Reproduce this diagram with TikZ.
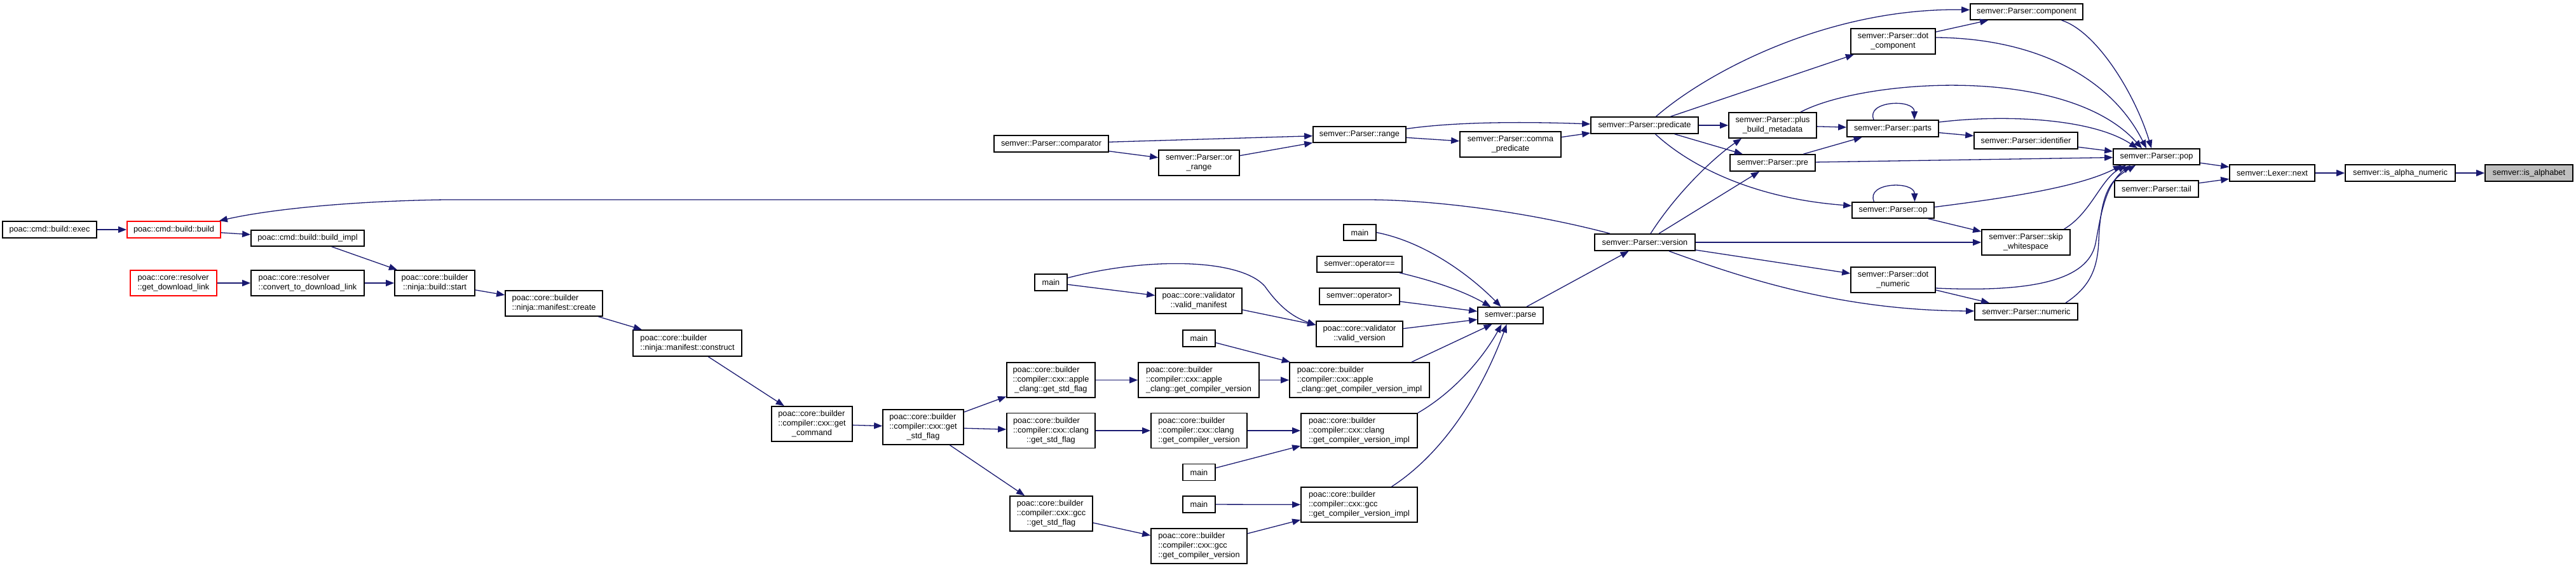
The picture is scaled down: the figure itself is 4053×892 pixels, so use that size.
\documentclass[tikz,border=0pt]{standalone}
\usepackage{fontspec}
\setmainfont{Liberation Sans}
\usetikzlibrary{arrows.meta}
\newcommand\TL[2]{\begin{tabular}{@{}l@{}}#1\\\multicolumn{1}{@{}c@{}}{#2}\end{tabular}}
\definecolor{edgec}{HTML}{191970}
\definecolor{focusc}{HTML}{BFBFBF}
\begin{document}
\begin{tikzpicture}[x=1pt,y=-1pt,
  bx/.style={draw=black,line width=1.7pt,rectangle,inner sep=0pt,fill=white,
    font=\fontsize{12.75}{15}\selectfont,align=center},
  redbx/.style={bx,draw=red},
  focus/.style={bx,fill=focusc},
  ed/.style={draw=edgec,line width=1.3pt,-{Triangle[length=13pt,width=10pt]}},
]
\useasboundingbox (0,0) rectangle (4053,892);
% ---------- left part ----------
\node[bx,minimum width=148pt,minimum height=26pt] (exec) at (78,361) {poac::cmd::build::exec};
\node[redbx,minimum width=147pt,minimum height=26pt] (build) at (273.5,361) {poac::cmd::build::build};
\node[bx,minimum width=178pt,minimum height=25pt] (bimpl) at (484,374.5) {poac::cmd::build::build\_impl};
\node[redbx,minimum width=136pt,minimum height=40pt] (gdl) at (273,445) {\TL{poac::core::resolver}{::get\_download\_link}};
\node[bx,minimum width=178pt,minimum height=40pt] (conv) at (484,445) {\TL{poac::core::resolver}{::convert\_to\_download\_link}};
\node[bx,minimum width=126pt,minimum height=40pt] (start) at (684,445) {\TL{poac::core::builder}{::ninja::build::start}};
\node[bx,minimum width=153pt,minimum height=40pt] (create) at (871.5,477) {\TL{poac::core::builder}{::ninja::manifest::create}};
\node[bx,minimum width=171pt,minimum height=41pt] (constr) at (1081.5,539.5) {\TL{poac::core::builder}{::ninja::manifest::construct}};
\node[bx,minimum width=127pt,minimum height=55pt] (getcmd) at (1277.5,666.5) {\TL{poac::core::builder\\::compiler::cxx::get}{\_command}};
\node[bx,minimum width=127pt,minimum height=55pt] (stdflag) at (1452.5,671.5) {\TL{poac::core::builder\\::compiler::cxx::get}{\_std\_flag}};
\node[bx,minimum width=139pt,minimum height=55pt] (applesf) at (1653.5,597.5) {\TL{poac::core::builder\\::compiler::cxx::apple}{\_clang::get\_std\_flag}};
\node[bx,minimum width=139pt,minimum height=55pt] (clangsf) at (1653.5,677) {\TL{poac::core::builder\\::compiler::cxx::clang}{::get\_std\_flag}};
\node[bx,minimum width=130pt,minimum height=55pt] (gccsf) at (1654,807.5) {\TL{poac::core::builder\\::compiler::cxx::gcc}{::get\_std\_flag}};
\node[bx,minimum width=190pt,minimum height=55pt] (applegcv) at (1886,597.5) {\TL{poac::core::builder\\::compiler::cxx::apple}{\_clang::get\_compiler\_version}};
\node[bx,minimum width=151pt,minimum height=55pt] (clanggcv) at (1886.5,677) {\TL{poac::core::builder\\::compiler::cxx::clang}{::get\_compiler\_version}};
\node[bx,minimum width=151pt,minimum height=55pt] (gccgcv) at (1886.5,858.5) {\TL{poac::core::builder\\::compiler::cxx::gcc}{::get\_compiler\_version}};
\node[bx,minimum width=51pt,minimum height=26pt] (mainA) at (1653.5,444) {main};
\node[bx,minimum width=136pt,minimum height=40pt] (vman) at (1886,473) {\TL{poac::core::validator}{::valid\_manifest}};
\node[bx,minimum width=51pt,minimum height=26pt] (mainB) at (1886.5,532) {main};
\node[bx,minimum width=51pt,minimum height=26pt] (mainC) at (1886.5,742.5) {main};
\node[bx,minimum width=51pt,minimum height=26pt] (mainD) at (1886.5,793) {main};
\node[bx,minimum width=51pt,minimum height=25pt] (mainT) at (2139.5,365.5) {main};
\node[bx,minimum width=134pt,minimum height=25pt] (opeq) at (2139,415.5) {semver::operator==};
\node[bx,minimum width=126pt,minimum height=26pt] (opgt) at (2139,466) {semver::operator>};
\node[bx,minimum width=136pt,minimum height=40pt] (vver) at (2139,525) {\TL{poac::core::validator}{::valid\_version}};
\node[bx,minimum width=220pt,minimum height=55pt] (appleimpl) at (2139,597.5) {\TL{poac::core::builder\\::compiler::cxx::apple}{\_clang::get\_compiler\_version\_impl}};
\node[bx,minimum width=183pt,minimum height=54pt] (clangimpl) at (2138.5,677) {\TL{poac::core::builder\\::compiler::cxx::clang}{::get\_compiler\_version\_impl}};
\node[bx,minimum width=183pt,minimum height=55pt] (gccimpl) at (2138.5,793.5) {\TL{poac::core::builder\\::compiler::cxx::gcc}{::get\_compiler\_version\_impl}};
\node[bx,minimum width=103pt,minimum height=26pt] (parse) at (2376.5,496) {semver::parse};
% ---------- semver part ----------
\node[bx,minimum width=180pt,minimum height=26pt] (comp) at (1654,226) {semver::Parser::comparator};
\node[bx,minimum width=127pt,minimum height=40pt] (orr) at (1886.5,256) {\TL{semver::Parser::or}{\_range}};
\node[bx,minimum width=146pt,minimum height=25pt] (range) at (2139,211.5) {semver::Parser::range};
\node[bx,minimum width=159pt,minimum height=40pt] (comma) at (2376.5,227) {\TL{semver::Parser::comma}{\_predicate}};
\node[bx,minimum width=169pt,minimum height=26pt] (pred) at (2587.5,197) {semver::Parser::predicate};
\node[bx,minimum width=158pt,minimum height=26pt] (ver) at (2588,381) {semver::Parser::version};
\node[bx,minimum width=138pt,minimum height=40pt] (plus) at (2789,197) {\TL{semver::Parser::plus}{\_build\_metadata}};
\node[bx,minimum width=134pt,minimum height=26pt] (pre) at (2789,256) {semver::Parser::pre};
\node[bx,minimum width=133pt,minimum height=40pt] (dotc) at (2978.5,65) {\TL{semver::Parser::dot}{\_component}};
\node[bx,minimum width=144pt,minimum height=26pt] (parts) at (2978,202) {semver::Parser::parts};
\node[bx,minimum width=129pt,minimum height=25pt] (op) at (2978.5,330.5) {semver::Parser::op};
\node[bx,minimum width=133pt,minimum height=40pt] (dotn) at (2978.5,440) {\TL{semver::Parser::dot}{\_numeric}};
\node[bx,minimum width=177pt,minimum height=25pt] (cmpn) at (3188.5,18.5) {semver::Parser::component};
\node[bx,minimum width=163pt,minimum height=26pt] (ident) at (3187.5,221) {semver::Parser::identifier};
\node[bx,minimum width=139pt,minimum height=40pt] (skip) at (3187.5,381) {\TL{semver::Parser::skip}{\_whitespace}};
\node[bx,minimum width=162pt,minimum height=26pt] (num) at (3188,490) {semver::Parser::numeric};
\node[bx,minimum width=136pt,minimum height=25pt] (pop) at (3393,246.5) {semver::Parser::pop};
\node[bx,minimum width=132pt,minimum height=26pt] (tail) at (3393,297) {semver::Parser::tail};
\node[bx,minimum width=134pt,minimum height=26pt] (next) at (3575,272) {semver::Lexer::next};
\node[bx,minimum width=173pt,minimum height=26pt] (alnum) at (3776.5,272) {semver::is\_alpha\_numeric};
\node[focus,minimum width=138pt,minimum height=26pt] (alpha) at (3979,272) {semver::is\_alphabet};
% ---------- edges: left ----------
\draw[ed] (exec) -- (build);
\draw[ed] (build) -- (bimpl);
\draw[ed] (bimpl) -- (start);
\draw[ed] (gdl) -- (conv);
\draw[ed] (conv) -- (start);
\draw[ed] (start) -- (create);
\draw[ed] (create) -- (constr);
\draw[ed] (constr) -- (getcmd);
\draw[ed] (getcmd) -- (stdflag);
\draw[ed] (stdflag) -- (applesf);
\draw[ed] (stdflag) -- (clangsf);
\draw[ed] (stdflag) -- (gccsf);
\draw[ed] (applesf) -- (applegcv);
\draw[ed] (clangsf) -- (clanggcv);
\draw[ed] (gccsf) -- (gccgcv);
\draw[ed] (applegcv) -- (appleimpl);
\draw[ed] (clanggcv) -- (clangimpl);
\draw[ed] (gccgcv) -- (gccimpl);
\draw[ed] (mainB) -- (appleimpl);
\draw[ed] (mainC) -- (clangimpl);
\draw[ed] (mainD) -- (gccimpl);
\draw[ed] (mainA) -- (vman);
\draw[ed] (mainA.15) .. controls (1800,405) and (1950,405) .. (1990,450) .. controls (2010,478) and (2030,497) .. ([yshift=14pt]vver.west);
\draw[ed] (vman) -- (vver);
\draw[ed] (mainT.east) .. controls (2240,380) and (2310,430) .. ([xshift=-15pt]parse.north);
\draw[ed] ([xshift=-5pt]opeq.south east) .. controls (2270,445) and (2310,462) .. ([xshift=-31pt]parse.north);
\draw[ed] (opgt) -- (parse);
\draw[ed] (vver) -- (parse);
\draw[ed] ([xshift=82pt]appleimpl.north) -- ([xshift=-29pt]parse.south);
\draw[ed] (clangimpl.north east) .. controls (2290,615) and (2335,560) .. ([xshift=-14pt]parse.south);
\draw[ed] ([xshift=51pt]gccimpl.north) .. controls (2290,700) and (2345,580) .. ([xshift=-6pt]parse.south);
\draw[ed] (parse) -- (ver);
\draw[ed] ([xshift=-55pt]ver.north) .. controls (2400,332) and (2250,314) .. (2150,314) -- (700,314) .. controls (560,316) and (430,328) .. ([xshift=-3pt]build.north east);
% ---------- edges: semver ----------
\draw[ed] ([yshift=9pt]range.east) .. controls (2300,190) and (2420,192) .. ([yshift=2pt]pred.west);
\draw[ed] (range) -- (comma);
\draw[ed] (comma) -- (pred);
\draw[ed] (comp) -- (range);
\draw[ed] (comp) -- (orr);
\draw[ed] (orr) -- (range);
\draw[ed] (pred) -- (plus);
\draw[ed] (pred) -- (pre);
\draw[ed] (pred) -- (dotc);
\draw[ed] ([xshift=18pt]pred.north) .. controls (2690,110) and (2880,12) .. ([yshift=3pt]cmpn.west);
\draw[ed] ([xshift=17pt]pred.south) .. controls (2660,262) and (2760,312) .. ([yshift=7pt]op.west);
\draw[ed] (plus) -- (parts);
\draw[ed] ([xshift=44pt]plus.north) .. controls (2930,125) and (3250,100) .. ([xshift=-23pt]pop.north);
\draw[ed] (pre) -- (parts);
\draw[ed] (pre) -- (pop);
\draw[ed] ([xshift=-30pt]parts.north) .. controls (2935,158) and (3012,155) .. ([xshift=34pt]parts.north);
\draw[ed] (parts) -- (ident);
\draw[ed] ([yshift=10pt]parts.east) .. controls (3150,180) and (3290,185) .. ([xshift=-30pt]pop.north);
\draw[ed] (ident) -- (pop);
\draw[ed] (dotc) -- (cmpn);
\draw[ed] ([yshift=6pt]dotc.east) .. controls (3200,60) and (3320,120) .. ([xshift=-16pt]pop.north);
\draw[ed] ([xshift=55pt]cmpn.south) .. controls (3300,50) and (3360,150) .. ([xshift=-8pt]pop.north);
\draw[ed] ([xshift=22pt]ver.north) -- ([xshift=-21pt]pre.south);
\draw[ed] ([xshift=9pt]ver.north) .. controls (2640,300) and (2700,245) .. ([xshift=-49pt]plus.south);
\draw[ed] (ver) -- (skip);
\draw[ed] (ver) -- (dotn);
\draw[ed] ([xshift=38pt]ver.south) .. controls (2750,440) and (2900,488) .. ([yshift=1pt]num.west);
\draw[ed] ([xshift=-30pt]op.north) .. controls (2935,286) and (3012,284) .. ([xshift=34pt]op.north);
\draw[ed] (op) -- (skip);
\draw[ed] ([yshift=5pt]op.east) .. controls (3150,312) and (3270,295) .. ([xshift=-55pt]pop.south);
\draw[ed] ([xshift=60pt]skip.north) .. controls (3290,335) and (3305,282) .. ([xshift=-48pt]pop.south);
\draw[ed] (dotn) -- (num);
\draw[ed] ([yshift=-13pt]dotn.east) .. controls (3200,460) and (3285,440) .. (3297,383) .. controls (3305,340) and (3312,290) .. ([xshift=-41pt]pop.south);
\draw[ed] ([xshift=62pt]num.north) .. controls (3290,450) and (3300,420) .. (3302,380) .. controls (3305,300) and (3322,282) .. ([xshift=-33pt]pop.south);
\draw[ed] (pop) -- (next);
\draw[ed] (tail) -- (next);
\draw[ed] (next) -- (alnum);
\draw[ed] (alnum) -- (alpha);
\end{tikzpicture}
\end{document}
